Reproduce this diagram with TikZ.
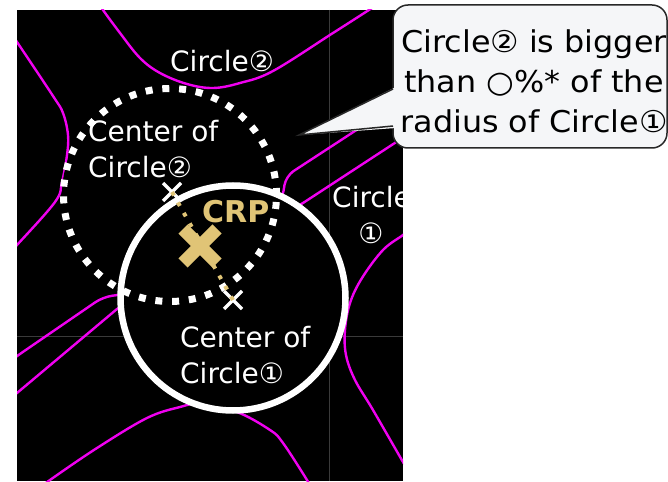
\documentclass[tikz,border=0pt]{standalone}
\usepackage{fontspec}
\setmainfont{DejaVu Sans}
\newfontfamily\callfont[FakeStretch=1.06]{DejaVu Sans}
\definecolor{mag}{RGB}{240,0,240}
\definecolor{gold}{RGB}{224,196,118}
\definecolor{gridc}{RGB}{58,58,58}
\definecolor{callfill}{RGB}{245,246,248}
\definecolor{callline}{RGB}{40,40,40}
\begin{document}
\begin{tikzpicture}[x=1pt,y=-1pt,
  curve/.style={mag, line width=2.4pt},
  lbl/.style={text=white, font=\fontsize{28}{34}\selectfont, inner sep=0pt, anchor=base west},
  clbl/.style={text=black, font=\callfont\fontsize{30}{36}\selectfont, inner sep=0pt, anchor=base},
  mk/.style={white, line width=3.5pt},
]
\useasboundingbox (0,0) rectangle (668,481);
\coordinate (c1) at (233,298);
\coordinate (c2) at (170,195);
\coordinate (m1) at (233,300);
\coordinate (m2) at (172,192);
\coordinate (crp) at (200,246);
\begin{scope}
\clip (17,10) rectangle (403,481);
\fill[black] (17,10) rectangle (403,481);
\draw[gridc, line width=1pt] (329,10) -- (329,481);
\draw[gridc, line width=1pt] (17,336) -- (403,336);
% magenta curves
\draw[curve] plot[smooth, tension=0.6] coordinates {(98,2) (103,10) (120,33) (140,58) (160,73) (187,84) (213,88) (240,83) (273,71) (333,33) (372,8) (378,4)};
\draw[curve] plot[smooth, tension=0.6] coordinates {(12,35) (17,42) (53,96) (63,113) (68,135) (67,155) (62,182) (55,202) (17,245) (10,252)};
\draw[curve] plot[smooth, tension=0.6] coordinates {(410,229) (403,235) (383,250) (362,278) (350,303) (345,330) (346,355) (355,380) (373,410) (403,462) (408,470)};
\draw[curve] plot[smooth, tension=0.6] coordinates {(40,488) (50,480) (97,448) (147,418) (180,407) (200,404) (237,412) (270,430) (283,443) (307,480) (311,488)};
\draw[curve, rounded corners=9pt] (430,82) -- (286,176) -- (282,200) -- (200,260) -- (125,294) -- (103,297) -- (17,356) -- (5,365);
\draw[curve] (430,120) -- (303,203) -- (117,309) -- (17,393) -- (5,403);
% circles
\fill[black] (c2) circle[radius=108pt];
\fill[black] (c1) circle[radius=113pt];
\draw[white, line width=7pt, dash pattern=on 7pt off 9.8pt] (c2) circle[radius=106.5pt];
\draw[white, line width=6.5pt] (c1) circle[radius=112.5pt];
% markers
\draw[mk] (m2) ++(-9,-9) -- ++(18,18) (m2) ++(9,-9) -- ++(-18,18);
\draw[mk] (m1) ++(-9,-9) -- ++(18,18) (m1) ++(9,-9) -- ++(-18,18);
\draw[gold, line width=4pt, dash pattern=on 4pt off 8pt] (m2) -- (m1);
\draw[gold, line width=13pt] (crp) ++(-17,-17) -- ++(34,34) (crp) ++(17,-17) -- ++(-34,34);
\node[text=gold, font=\fontsize{30}{36}\selectfont\bfseries, inner sep=0pt, anchor=base west] (crpl) at (202,222) {CRP};
% labels
\node[lbl] (t2) at (170,72) {Circle②};
\node[lbl] (cc2a) at (88,142) {Center of};
\node[lbl] (cc2b) at (88,177) {Circle②};
\node[lbl] (t1a) at (332,207) {Circle};
\node[lbl, anchor=base] (t1b) at (371,243) {①};
\node[lbl] (cc1a) at (180,347) {Center of};
\node[lbl] (cc1b) at (180,383) {Circle①};
\end{scope}
% callout
\fill[callfill, draw=callline, line width=1.5pt, rounded corners=15pt] (393,5) rectangle (667,148);
\fill[callfill] (396,87) -- (299,135) -- (396,128) -- cycle;
\draw[callline, line width=1.5pt] (393,89) -- (299,135) -- (393,126);
\node[clbl] (ca) at (534,53) {Circle② is bigger};
\node[clbl] (cb) at (534,92.5) {than ○\%* of the};
\node[clbl] (cc) at (534,132) {radius of Circle①};
\end{tikzpicture}
\end{document}
